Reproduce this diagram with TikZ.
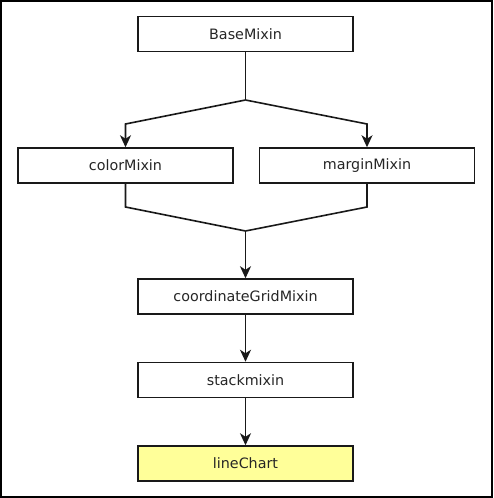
\documentclass[tikz,border=0pt]{standalone}
\usepackage{fontspec}
\setmainfont{DejaVu Sans}
\usetikzlibrary{arrows.meta}
\tikzset{
  box/.style={draw=black!90, line width=1.5pt, minimum width=215pt, minimum height=35pt, inner sep=0pt, font=\fontsize{14.3}{17}\selectfont, text=black!85},
  hl/.style={fill={rgb,255:red,255;green,255;blue,153}},
  conn/.style={draw=black!90, line width=1.6pt, -{Stealth[length=12pt,width=11pt,inset=3.5pt]}},
  plain/.style={draw=black!90, line width=1.6pt}
}
\begin{document}
\begin{tikzpicture}[x=1pt,y=-1pt]
\useasboundingbox (0,0) rectangle (493,498);
\fill[white] (0,0) rectangle (493,498);
\draw[line width=1.8pt] (0.9,0.9) rectangle (492.1,497.1);
\node[box] (base) at (245.5,34) {BaseMixin};
\node[box] (color) at (125.5,165.5) {colorMixin};
\node[box] (margin) at (367,165.5) {marginMixin};
\node[box] (coord) at (245.5,296.5) {coordinateGridMixin};
\node[box] (stack) at (245.5,380) {stackmixin};
\node[box,hl] (line) at (245.5,463.5) {lineChart};
\coordinate (j1) at (245.5,100);
\coordinate (cl) at (125.5,124);
\coordinate (mr) at (367,124);
\coordinate (cb) at (125.5,207);
\coordinate (mb) at (367,207);
\coordinate (j2) at (245.5,231);
\draw[plain] (base.south) -- (j1);
\draw[conn] (j1) -- (cl) -- (color.north);
\draw[conn] (j1) -- (mr) -- (margin.north);
\draw[plain] (color.south) -- (cb) -- (j2);
\draw[plain] (margin.south) -- (mb) -- (j2);
\draw[conn] (j2) -- (coord.north);
\draw[conn] (coord.south) -- (stack.north);
\draw[conn] (stack.south) -- (line.north);
\end{tikzpicture}
\end{document}
